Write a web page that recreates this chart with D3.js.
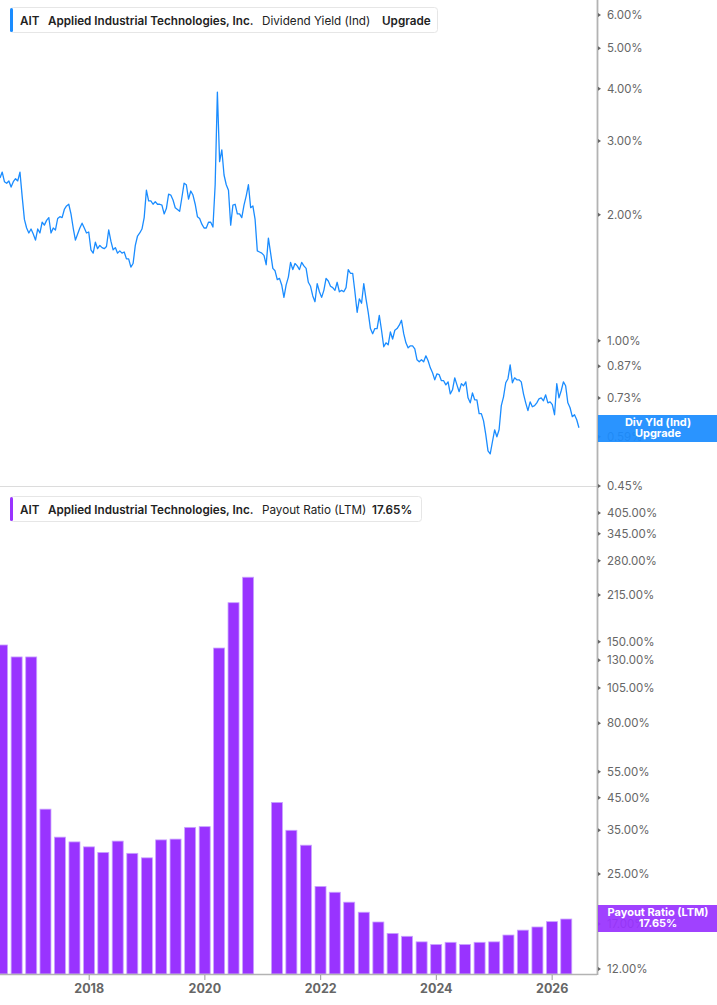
<!DOCTYPE html>
<html>
<head>
<meta charset="utf-8">
<script src="https://cdn.jsdelivr.net/npm/d3@7"></script>
<style>
  body { margin: 0; background: #fff; }
  svg { display: block; font-family: Inter, "Noto Sans", sans-serif; }
</style>
</head>
<body>
<svg id="chart"></svg>
<script>
// dividend yield (%), one reading every two weeks from yieldStart
const yieldStart = "2016-06-17";
const yieldStepDays = 14;
const divYield = [
  2.45, 2.53, 2.40, 2.38, 2.41, 2.33, 2.40, 2.44, 2.41, 2.53,
  2.21, 1.95, 1.86, 1.81, 1.85, 1.80, 1.74, 1.85, 1.81, 1.92,
  1.89, 1.94, 1.97, 1.81, 1.86, 1.84, 1.96, 1.98, 1.97, 2.06,
  2.10, 2.12, 2.01, 1.86, 1.74, 1.80, 1.86, 1.91, 1.86, 1.81,
  1.82, 1.65, 1.62, 1.72, 1.66, 1.69, 1.67, 1.66, 1.68, 1.84,
  1.73, 1.65, 1.67, 1.62, 1.64, 1.62, 1.63, 1.57, 1.57, 1.50,
  1.53, 1.69, 1.78, 1.81, 1.85, 1.97, 2.29, 2.16, 2.16, 2.12,
  2.15, 2.12, 2.12, 2.11, 2.01, 2.07, 2.24, 2.23, 2.17, 2.08,
  2.06, 2.04, 2.20, 2.38, 2.36, 2.18, 2.28, 2.23, 2.12, 1.98,
  1.96, 1.90, 1.86, 1.86, 1.92, 1.92, 1.87, 2.36, 3.93, 2.68,
  2.86, 2.49, 2.36, 2.29, 1.89, 2.11, 2.12, 2.01, 2.01, 1.97,
  2.11, 2.22, 2.36, 2.08, 2.10, 1.95, 1.64, 1.63, 1.62, 1.60,
  1.52, 1.76, 1.62, 1.49, 1.47, 1.40, 1.41, 1.36, 1.27, 1.36,
  1.42, 1.54, 1.48, 1.53, 1.51, 1.48, 1.54, 1.51, 1.49, 1.38,
  1.35, 1.28, 1.24, 1.37, 1.31, 1.27, 1.32, 1.41, 1.39, 1.35,
  1.34, 1.32, 1.38, 1.31, 1.32, 1.31, 1.34, 1.48, 1.45, 1.45,
  1.31, 1.17, 1.26, 1.23, 1.37, 1.26, 1.17, 1.07, 1.04, 1.07,
  1.07, 1.15, 1.06, 0.968, 0.989, 0.978, 1.05, 1.01, 1.06, 1.07,
  1.09, 1.12, 1.04, 0.989, 0.962, 0.973, 0.973, 0.957, 0.901, 0.891,
  0.901, 0.891, 0.921, 0.896, 0.862, 0.839, 0.807, 0.834, 0.830, 0.803,
  0.803, 0.785, 0.798, 0.747, 0.764, 0.816, 0.785, 0.756, 0.790, 0.781,
  0.798, 0.731, 0.711, 0.751, 0.723, 0.723, 0.670, 0.670, 0.644, 0.597,
  0.546, 0.537, 0.574, 0.613, 0.590, 0.613, 0.700, 0.735, 0.794, 0.812,
  0.876, 0.794, 0.816, 0.807, 0.807, 0.798, 0.747, 0.711, 0.681, 0.715,
  0.696, 0.700, 0.711, 0.727, 0.731, 0.719, 0.743, 0.711, 0.715, 0.704,
  0.666, 0.790, 0.731, 0.760, 0.798, 0.781, 0.711, 0.692, 0.659, 0.666,
  0.648, 0.620
];

// payout ratio LTM (%), by fiscal quarter end
const quarterEnds = [
  "2016-06-30", "2016-09-30", "2016-12-31", "2017-03-31", "2017-06-30",
  "2017-09-30", "2017-12-31", "2018-03-31", "2018-06-30", "2018-09-30",
  "2018-12-31", "2019-03-31", "2019-06-30", "2019-09-30", "2019-12-31",
  "2020-03-31", "2020-06-30", "2020-09-30", "2020-12-31", "2021-03-31",
  "2021-06-30", "2021-09-30", "2021-12-31", "2022-03-31", "2022-06-30",
  "2022-09-30", "2022-12-31", "2023-03-31", "2023-06-30", "2023-09-30",
  "2023-12-31", "2024-03-31", "2024-06-30", "2024-09-30", "2024-12-31",
  "2025-03-31", "2025-06-30", "2025-09-30", "2025-12-31", "2026-03-31"
];
const payoutRatio = [
  146.2, 133.3, 133.3, 41.2, 33.2, 32.0, 30.8, 29.5, 32.2, 29.3,
  28.3, 32.5, 32.7, 35.8, 36.0, 142.8, 202.6, 246.6, null, 43.4,
  35.0, 31.2, 22.7, 21.7, 20.1, 18.6, 17.25, 15.8, 15.45, 14.8,
  14.5, 14.75, 14.5, 14.75, 14.8, 15.6, 16.2, 16.6, 17.3, 17.65
];

const yieldTicks = [0.45, 0.59, 0.73, 0.87, 1, 2, 3, 4, 5, 6];
const payoutTicks = [12, 17, 25, 35, 45, 55, 80, 105, 130, 150, 215, 280, 345, 405];
const yearTicks = ["2018", "2020", "2022", "2024", "2026"];

const width = 717, height = 1005;
const axisX = 597;
const blue = "#1a8cff", purple = "#9933ff";

const parse = d3.utcParse("%Y-%m-%d");
const svg = d3.select("#chart").attr("width", width).attr("height", height);

const x = d3.scaleUtc()
  .domain([parse("2016-06-17"), parse("2026-10-11")])
  .range([0, axisX]);

const yTop = d3.scaleLog().domain([0.45, 6.52]).range([486, 0]);
const yBot = d3.scaleLog().domain([11.55, 465]).range([974, 495]);

const fmt = d => d.toFixed(2) + "%";

// ---- top panel: dividend yield line
const start = parse(yieldStart);
const yieldData = divYield.map((v, i) => ({ date: d3.utcDay.offset(start, i * yieldStepDays), value: v }));

svg.append("line")
  .attr("x1", 0).attr("x2", axisX).attr("y1", 486.5).attr("y2", 486.5)
  .attr("stroke", "#dcdcdc");

svg.append("path")
  .datum(yieldData)
  .attr("fill", "none")
  .attr("stroke", blue)
  .attr("stroke-width", 1.3)
  .attr("stroke-linejoin", "round")
  .attr("d", d3.line().x(d => x(d.date)).y(d => yTop(d.value)));

// ---- bottom panel: payout ratio bars
const barData = quarterEnds.map((q, i) => ({ date: parse(q), value: payoutRatio[i] }))
  .filter(d => d.value != null);
const barW = 11;

svg.append("g").selectAll("rect")
  .data(barData)
  .enter()
  .append("rect")
  .attr("x", d => x(d.date) - barW / 2)
  .attr("y", d => yBot(d.value))
  .attr("width", barW)
  .attr("height", d => 974 - yBot(d.value))
  .attr("fill", purple)
  .attr("stroke", "#c9a3ff")
  .attr("stroke-width", 0.8);

// x axis line + year labels
svg.append("line")
  .attr("x1", 0).attr("x2", axisX).attr("y1", 974.5).attr("y2", 974.5)
  .attr("stroke", "#b3b3b3").attr("stroke-width", 1.5);

const years = svg.append("g").selectAll("g")
  .data(yearTicks)
  .enter()
  .append("g")
  .attr("transform", d => `translate(${x(parse(d + "-01-01"))},0)`);
years.append("line").attr("y1", 975).attr("y2", 980).attr("stroke", "#999");
years.append("text")
  .attr("y", 993)
  .attr("text-anchor", "middle")
  .attr("font-size", 12.5)
  .attr("font-weight", 700)
  .attr("fill", "#666")
  .text(d => d);

// right axis line
svg.append("line")
  .attr("x1", axisX + 0.5).attr("x2", axisX + 0.5).attr("y1", 0).attr("y2", 975)
  .attr("stroke", "#b3b3b3").attr("stroke-width", 1.8);

function drawTicks(scale, ticks) {
  const g = svg.append("g").selectAll("g")
    .data(ticks)
    .enter()
    .append("g")
    .attr("transform", d => `translate(${axisX},${scale(d)})`);
  g.append("path").attr("d", "M1,-2L4,0L1,2Z").attr("fill", "#666");
  g.append("text")
    .attr("x", 10)
    .attr("dy", "0.35em")
    .attr("font-size", 11.5)
    .attr("fill", "#666")
    .text(fmt);
}
drawTicks(yTop, yieldTicks);
drawTicks(yBot, payoutTicks);

// value flags on the right axis (they cover the tick label under them)
function flag(y0, color, lines) {
  svg.append("rect")
    .attr("x", axisX + 1).attr("y", y0)
    .attr("width", width - axisX - 1).attr("height", 27)
    .attr("fill", color).attr("fill-opacity", 0.93);
  svg.append("text")
    .attr("x", 658).attr("y", y0 + 11)
    .attr("text-anchor", "middle")
    .attr("font-size", 11).attr("font-weight", 700).attr("fill", "#fff")
    .selectAll("tspan")
    .data(lines)
    .enter()
    .append("tspan")
    .attr("x", 658)
    .attr("dy", (d, i) => i ? 11 : 0)
    .text(d => d);
}
flag(415, blue, ["Div Yld (Ind)", "Upgrade"]);
flag(905, purple, ["Payout Ratio (LTM)", fmt(payoutRatio[payoutRatio.length - 1])]);

// legends
function legend(y0, w, color, parts) {
  svg.append("rect")
    .attr("x", 10.5).attr("y", y0 + 0.5)
    .attr("width", w).attr("height", 25)
    .attr("rx", 3)
    .attr("fill", "#fff").attr("stroke", "#e6e6e6");
  svg.append("rect")
    .attr("x", 10).attr("y", y0 + 1)
    .attr("width", 3).attr("height", 24)
    .attr("rx", 1.5)
    .attr("fill", color);
  svg.append("g").selectAll("text")
    .data(parts)
    .enter()
    .append("text")
    .attr("x", d => d.x)
    .attr("y", y0 + 17.5)
    .attr("font-size", 11.7)
    .attr("font-weight", d => d.bold ? 600 : 400)
    .attr("fill", "#222")
    .text(d => d.t);
}
legend(7, 427, blue, [
  { t: "AIT", x: 20, bold: true },
  { t: "Applied Industrial Technologies, Inc.", x: 48, bold: true },
  { t: "Dividend Yield (Ind)", x: 262 },
  { t: "Upgrade", x: 382, bold: true }
]);
legend(496, 411, purple, [
  { t: "AIT", x: 20, bold: true },
  { t: "Applied Industrial Technologies, Inc.", x: 48, bold: true },
  { t: "Payout Ratio (LTM)", x: 262 },
  { t: fmt(payoutRatio[payoutRatio.length - 1]), x: 372, bold: true }
]);
</script>
</body>
</html>
